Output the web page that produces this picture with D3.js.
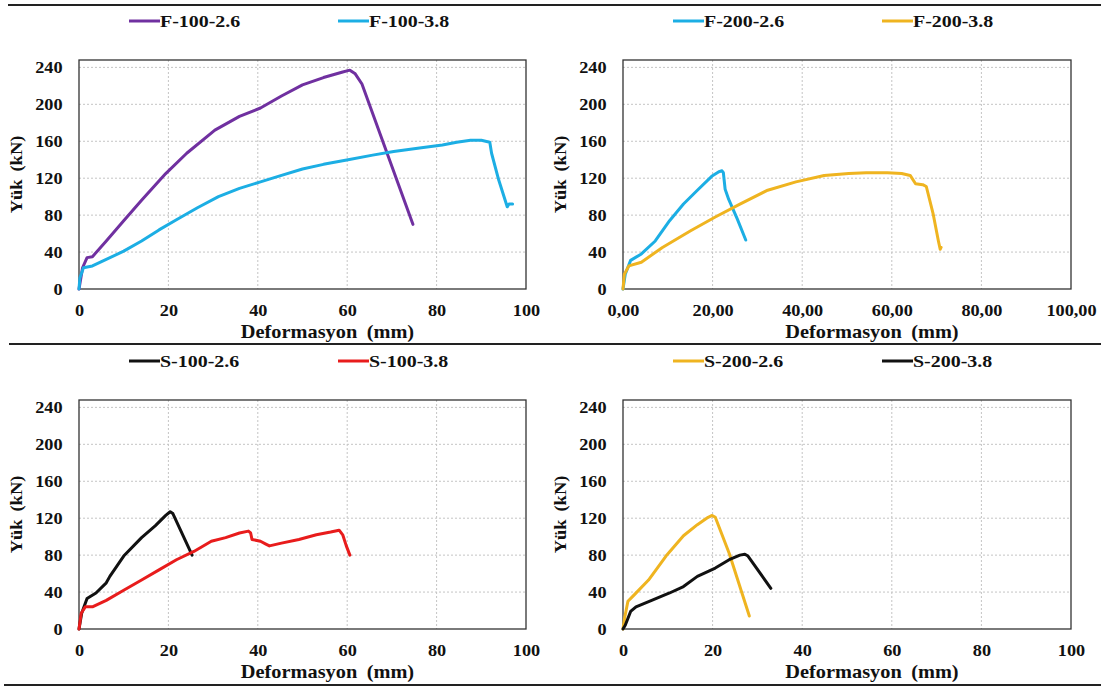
<!DOCTYPE html>
<html>
<head>
<meta charset="utf-8">
<script src="https://cdn.jsdelivr.net/npm/d3@7"></script>
<style>
  html, body { margin: 0; padding: 0; background: #fff; }
  svg { display: block; }
  text { font-family: "Liberation Serif", "Times New Roman", serif; font-weight: bold; fill: #111; }
</style>
</head>
<body>
<svg id="chart" width="1101" height="689"></svg>
<script>
// Load–deformation curves (deformation in mm, load in kN)
const F100_26 = [[0,0],[0.8,23],[1.8,34],[3,35],[6.1,52],[10,74],[14,96],[19.4,125],[24.1,147],[30.4,172],[35.9,187],[40.6,196],[45.3,209],[50,221],[54.7,229],[59,235],[60.6,237],[61.8,233],[63.3,222],[74.7,70]];
const F100_38 = [[0,0],[0.2,12],[1,23],[3,25],[6.1,32],[10,41],[14,52],[17.9,64],[21.8,75],[26.5,88],[31.2,100],[35.9,109],[40.6,116],[45.3,123],[50,130],[54.7,135],[60.2,140],[65.7,145],[70.4,149],[76.6,153],[81.3,156],[84.5,159],[87.6,161],[90,161],[91.9,159],[92.3,147],[93.9,118],[95.8,89],[96.2,92],[97,92]];
const F200_26 = [[0,0],[0.5,16],[1.7,31],[4.1,38],[7.2,52],[10.4,74],[13.5,92],[16.6,107],[19.8,122],[21.4,127],[22.1,128],[22.4,126],[22.8,108],[23.6,97],[25.5,76],[27.4,53]];
const F200_38 = [[0,0],[0.3,16],[1.3,25],[4.1,29],[8.8,45],[15.1,63],[20.6,78],[26.1,92],[32.3,107],[38.6,116],[44.9,123],[50.4,125],[54.3,126],[59,126],[62.2,125],[64.1,123],[65.3,114],[66.9,113],[67.7,111],[69.2,82],[70.4,52],[70.8,43],[71,45]];
const S100_26 = [[0,0],[0.6,17],[1.8,33],[3.8,39],[6.1,50],[6.9,57],[10,79],[14,99],[17.1,112],[19.4,123],[20.4,127],[21,125],[25.3,80]];
const S100_38 = [[0,0],[0.5,17],[1.4,24],[3,24],[6.1,31],[10,42],[14,53],[17.9,64],[21.8,75],[25.7,84],[29.6,95],[32.8,99],[35.9,104],[37.9,106],[38.4,104],[38.7,97],[40.6,95],[41.8,92],[42.6,90],[45.3,93],[49.2,97],[53.1,102],[56.3,105],[58.2,107],[59,102],[59.8,90],[60.6,80]];
const S200_26 = [[0,0],[0.4,13],[1.1,30],[2.5,37],[5.7,53],[9.6,79],[13.5,101],[16.6,113],[19,121],[19.9,123],[20.6,121],[23.7,82],[28.2,14]];
const S200_38 = [[0,0],[0.5,4],[1.7,19],[2.9,24],[6.4,31],[10.4,39],[13.5,46],[16.6,57],[20.6,66],[23.7,75],[26.1,80],[27.2,81],[27.9,79],[33,44]];

const seriesNames = ["F-100-2.6","F-100-3.8","F-200-2.6","F-200-3.8","S-100-2.6","S-100-3.8","S-200-2.6","S-200-3.8"];
const xTicks = [0,20,40,60,80,100];
const yTicks = [0,40,80,120,160,200,240];
const xTitle = "Deformasyon (mm)";
const yTitle = "Yük (kN)";

const PURPLE = "#7030a0", CYAN = "#1caee4", GOLD = "#efb420", RED = "#e81c1c", BLACK = "#111111";

const panels = [
  { left: 79,  top: 60,  w: 447, series: [[seriesNames[0], F100_26, PURPLE], [seriesNames[1], F100_38, CYAN]], comma: false },
  { left: 623, top: 60,  w: 448, series: [[seriesNames[2], F200_26, CYAN],   [seriesNames[3], F200_38, GOLD]], comma: true },
  { left: 79,  top: 400, w: 447, series: [[seriesNames[4], S100_26, BLACK],  [seriesNames[5], S100_38, RED]], comma: false },
  { left: 623, top: 400, w: 448, series: [[seriesNames[6], S200_26, GOLD],   [seriesNames[7], S200_38, BLACK]], comma: false }
];

const PH = 229;
const SX = 1.14;           // horizontal widening of the serif lettering
const svg = d3.select("#chart");

// Horizontal rules separating the rows
[[8, 5], [9, 344], [4, 685]].forEach(([x0, y]) => {
  svg.append("line").attr("x1", x0).attr("x2", 1101).attr("y1", y).attr("y2", y)
    .attr("stroke", "#222").attr("stroke-width", 2);
});

const fmtComma = v => d3.format(".2f")(v).replace(".", ",");

panels.forEach(p => {
  const PW = p.w;
  const g = svg.append("g").attr("transform", `translate(${p.left},${p.top})`);
  const x = d3.scaleLinear().domain([0, 100]).range([0, PW]);
  const y = d3.scaleLinear().domain([0, 248]).range([PH, 0]);

  // dashed gridlines
  g.append("g").selectAll("line").data(yTicks.filter(v => v > 0)).join("line")
    .attr("x1", 0).attr("x2", PW).attr("y1", d => y(d)).attr("y2", d => y(d))
    .attr("stroke", "#c4c4c4").attr("stroke-width", 1).attr("stroke-dasharray", "2,2");
  g.append("g").selectAll("line").data(xTicks.filter(v => v > 0 && v < 100)).join("line")
    .attr("x1", d => x(d)).attr("x2", d => x(d)).attr("y1", 0).attr("y2", PH)
    .attr("stroke", "#c4c4c4").attr("stroke-width", 1).attr("stroke-dasharray", "2,2");

  // plot frame
  g.append("rect").attr("x", 0).attr("y", 0).attr("width", PW).attr("height", PH)
    .attr("fill", "none").attr("stroke", "#333").attr("stroke-width", 1.3);

  // axes (labels only)
  const xAxis = d3.axisBottom(x).tickValues(xTicks).tickSize(0).tickPadding(16)
    .tickFormat(p.comma ? fmtComma : d3.format("d"));
  const xg = g.append("g").attr("transform", `translate(0,${PH})`).call(xAxis);
  xg.select(".domain").remove();
  xg.selectAll("text").style("font-size", "16px").attr("fill", "#111")
    .style("font-family", "'Liberation Serif', serif").style("font-weight", "bold")
    .attr("transform", `scale(${SX},1)`);

  const yPad = 16.5;
  const yAxis = d3.axisLeft(y).tickValues(yTicks).tickSize(0).tickPadding(yPad).tickFormat(d3.format("d"));
  const yg = g.append("g").call(yAxis);
  yg.select(".domain").remove();
  yg.selectAll("text").style("font-size", "16px").attr("fill", "#111")
    .style("font-family", "'Liberation Serif', serif").style("font-weight", "bold")
    .attr("x", -yPad / SX).attr("transform", `scale(${SX},1)`);

  // axis titles
  g.append("text").attr("transform", `translate(${PW / 2 + 25},${PH + 49}) scale(1.1,1)`)
    .attr("text-anchor", "middle").style("font-size", "18.5px").style("word-spacing", "4px").text(xTitle);
  g.append("text").attr("transform", `translate(${-57},${PH / 2}) rotate(-90) scale(1.12,1)`)
    .attr("text-anchor", "middle").style("font-size", "16.5px").style("word-spacing", "3px").text(yTitle);

  // curves
  const line = d3.line().x(d => x(d[0])).y(d => y(d[1]));
  p.series.forEach(([name, data, color]) => {
    g.append("path").datum(data).attr("d", line).attr("fill", "none")
      .attr("stroke", color).attr("stroke-width", 3).attr("stroke-linejoin", "round").attr("stroke-linecap", "round");
  });

  // legend above each panel
  const lg = g.append("g").attr("transform", `translate(0,${-39})`);
  p.series.forEach(([name, data, color], i) => {
    const lx = 50 + i * 209;
    lg.append("line").attr("x1", lx).attr("x2", lx + 31).attr("y1", 0).attr("y2", 0)
      .attr("stroke", color).attr("stroke-width", 3);
    lg.append("text").attr("transform", `translate(${lx + 31},6) scale(${SX},1)`)
      .style("font-size", "17.5px").text(name);
  });
});
</script>
</body>
</html>
